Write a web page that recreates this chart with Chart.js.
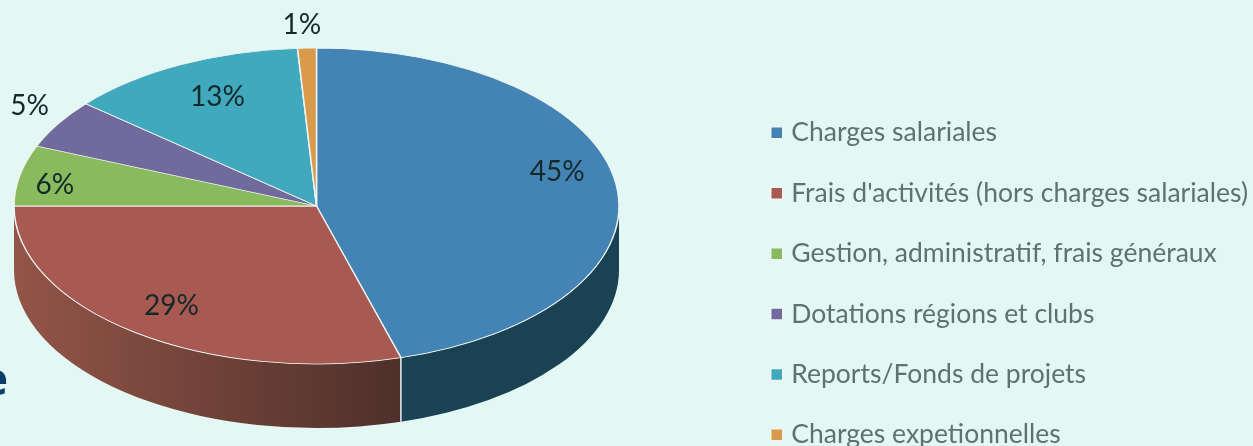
<!DOCTYPE html>
<html>
<head>
<meta charset="utf-8">
<script src="https://cdn.jsdelivr.net/npm/chart.js@4"></script>
<style>
  html, body { margin: 0; padding: 0; background: #e3f8f4; overflow: hidden; }
  canvas { display: block; filter: blur(0.5px); }
</style>
</head>
<body>
<canvas id="myChart" width="1253" height="446"></canvas>
<script>
// data
const categories = ['Charges salariales', "Frais d'activités (hors charges salariales)", 'Gestion, administratif, frais généraux', 'Dotations régions et clubs', 'Reports/Fonds de projets', 'Charges expetionnelles'];
const shares = [45.5, 29.5, 6.2, 5, 12.8, 1];
const printedLabels = ['45%', '29%', '6%', '5%', '13%', '1%'];

// colours
const topColors = ['#4484b5', '#a85a52', '#8aba5e', '#716a9c', '#41a9bd', '#d99a4c'];
const wallColors = [['#1b4253', '#1b4253'], ['#935548', '#4e302a'], ['#5a7a3a', '#5a7a3a'], ['#463f66', '#463f66'], ['#256a78', '#256a78'], ['#8a6030', '#8a6030']];

// where the flattened pie goes
const centerX = 316.5, centerY = 206, pieRadius = 302.5, squash = 158 / 302.5, wallDepth = 64;
const labelNudge = [[31, -18], [-18, 12], [-54, 0], [-106, -43], [-4, -10], [-8, -70]];

function flatten(ctx, arc) {
    ctx.translate(centerX, centerY);
    ctx.scale(1, squash);
    ctx.translate(-arc.x, -arc.y);
}

// draws the side wall under the front half, then flattens the real arcs
const flatPie = {
    id: 'flatPie',
    beforeDatasetsDraw(chart) {
        const ctx = chart.ctx;
        const arcs = chart.getDatasetMeta(0).data;
        const depth = wallDepth / squash;
        ctx.save();
        flatten(ctx, arcs[0]);
        arcs.forEach(function (arc, i) {
            const from = Math.max(arc.startAngle, 0);
            const to = Math.min(arc.endAngle, Math.PI);
            if (to <= from) return;
            const r = arc.outerRadius;
            const x0 = arc.x + r * Math.cos(to), x1 = arc.x + r * Math.cos(from);
            const grad = ctx.createLinearGradient(x0, 0, x1, 0);
            grad.addColorStop(0, wallColors[i][0]);
            grad.addColorStop(1, wallColors[i][1]);
            ctx.beginPath();
            ctx.arc(arc.x, arc.y, r, from, to);
            ctx.arc(arc.x, arc.y + depth, r, to, from, true);
            ctx.closePath();
            ctx.fillStyle = grad;
            ctx.fill();
            // seam between two walls
            if (from > 0) {
                const sx = arc.x + r * Math.cos(from), sy = arc.y + r * Math.sin(from);
                ctx.beginPath();
                ctx.moveTo(sx, sy);
                ctx.lineTo(sx, sy + depth);
                ctx.strokeStyle = '#e8efec';
                ctx.lineWidth = 1.5;
                ctx.stroke();
            }
        });
    },
    afterDatasetsDraw(chart) {
        const ctx = chart.ctx;
        const arcs = chart.getDatasetMeta(0).data;
        ctx.restore();

        ctx.save();
        ctx.font = '28px Lato';
        ctx.fillStyle = '#15292a';
        ctx.textAlign = 'center';
        ctx.textBaseline = 'middle';
        arcs.forEach(function (arc, i) {
            const mid = (arc.startAngle + arc.endAngle) / 2;
            const x = centerX + 0.7 * arc.outerRadius * Math.cos(mid) + labelNudge[i][0];
            const y = centerY + 0.7 * arc.outerRadius * squash * Math.sin(mid) + labelNudge[i][1];
            ctx.fillText(printedLabels[i], x, y);
        });
        // bit of a title cut off by the left edge of the picture
        ctx.font = 'bold 44px "Open Sans"';
        ctx.fillStyle = '#0a3f6c';
        ctx.textAlign = 'right';
        ctx.textBaseline = 'alphabetic';
        ctx.fillText('e', 8, 395);
        ctx.restore();
    }
};

let ctx = document.getElementById('myChart').getContext('2d');
let myChart = new Chart(ctx, {
    type: 'pie',
    data: {
        labels: categories,
        datasets: [{
            data: shares,
            backgroundColor: topColors,
            borderColor: '#eef5f2',
            borderWidth: 1.5,
            radius: pieRadius,
            clip: false
        }]
    },
    options: {
        responsive: false,
        animation: false,
        // the legend runs lower and further right than the default box
        layout: { padding: { right: -5, bottom: -36 } },
        plugins: {
            tooltip: { enabled: false },
            legend: {
                position: 'right',
                align: 'end',
                labels: {
                    usePointStyle: true,
                    pointStyle: 'rect',
                    boxWidth: 2.5,
                    boxHeight: 12,
                    padding: 33.9,
                    color: '#5b7371',
                    font: { family: 'Lato', size: 26.5 }
                }
            }
        }
    },
    plugins: [flatPie]
});
</script>
</body>
</html>
